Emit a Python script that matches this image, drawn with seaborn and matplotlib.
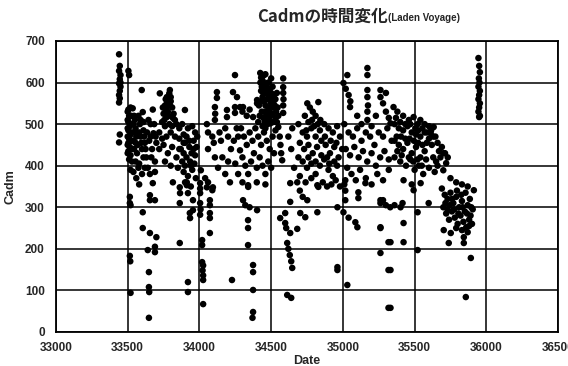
import matplotlib
matplotlib.use("Agg")
import matplotlib.pyplot as plt
import seaborn as sns
import pandas as pd

# ---- data ----
date_a = [33440, 33445, 33440, 33450, 33445, 33440, 33450, 33445, 33440, 33445, 33450, 33440, 33445, 33440, 33505, 33510]
cadm_a = [668, 640, 628, 618, 608, 598, 590, 580, 570, 562, 600, 552, 475, 456, 628, 618]

date_b = [33505, 33510, 33505, 33515, 33505, 33520, 33510, 33505, 33515, 33505, 33520, 33510, 33525, 33530, 33535, 33540,
          33545, 33550, 33555, 33560, 33565, 33570, 33580, 33585, 33590, 33600, 33605, 33598, 33610, 33620, 33630, 33640,
          33650, 33660, 33670, 33675, 33680, 33690, 33700, 33520, 33540, 33560, 33580, 33600, 33620, 33655, 33690,
          33515, 33515, 33520, 33515, 33518, 33520, 33605, 33605, 33655, 33700, 33640, 33690, 33690, 33648, 33648,
          33650, 33648, 33675, 33655, 33655, 33690]
cadm_b = [535, 520, 505, 495, 485, 475, 465, 455, 445, 435, 425, 415, 500, 480, 538, 460,
          440, 510, 490, 470, 430, 450, 405, 500, 470, 440, 529, 582, 485, 455, 420, 395,
          460, 500, 440, 535, 478, 410, 455, 390, 385, 370, 355, 380, 395, 380, 385,
          325, 310, 305, 183, 170, 94, 288, 250, 238, 228, 197, 205, 192, 144, 108,
          96, 34, 358, 329, 317, 317]

date_c = [33724, 33794, 33790, 33773, 33775, 33770, 33780, 33773, 33760, 33750, 33800, 33810, 33820, 33829, 33899, 33740,
          33760, 33790, 33810, 33840, 33860, 33880, 33720, 33740, 33770, 33800, 33830, 33860, 33890, 33920, 33950, 33970,
          33720, 33750, 33780, 33810, 33840, 33870, 33900, 33930, 33960, 33985, 33880, 33910, 33940, 33970, 33890, 33920,
          33950, 33975, 33900, 33940, 33760, 33800, 33850,
          33815, 33863, 33865, 33912, 33912, 33920, 33863, 33955, 33933, 33935, 33955, 33863, 33920, 33920]
cadm_c = [574, 582, 574, 565, 550, 540, 530, 517, 545, 525, 555, 540, 525, 510, 534, 505,
          495, 500, 495, 500, 490, 500, 480, 465, 470, 480, 470, 465, 475, 490, 495, 480,
          440, 450, 430, 445, 420, 440, 455, 445, 460, 470, 410, 420, 400, 425, 385, 375,
          390, 370, 360, 350, 410, 400, 395,
          360, 348, 334, 360, 353, 334, 310, 317, 286, 274, 293, 214, 120, 96]

date_d = [34005, 34005, 34005, 34052, 34094, 34073, 34073, 34005, 34008, 34005, 34073, 34073, 34073, 34019, 34019, 34019,
          34026, 34022, 34026, 34026, 34026, 34213, 34227,
          34122, 34122, 34234, 34262, 34108, 34110, 34108, 34192, 34192, 34248, 34248, 34304, 34248,
          34052, 34060, 34090, 34100, 34060, 34108, 34140, 34150, 34180, 34200, 34220, 34240, 34260, 34283, 34270, 34160,
          34200, 34250, 34130, 34180, 34270, 34010, 34040, 34090, 34060]
cadm_d = [358, 345, 334, 348, 348, 317, 305, 310, 295, 282, 286, 274, 238, 221, 209, 168,
          160, 148, 136, 125, 67, 360, 125,
          577, 563, 577, 565, 541, 525, 510, 534, 517, 541, 527, 541, 618,
          500, 480, 470, 455, 440, 420, 480, 460, 490, 470, 440, 460, 490, 437, 470, 420,
          410, 405, 395, 380, 380, 389, 370, 341, 360]

date_e = [34424, 34430, 34440, 34450, 34460, 34470, 34480, 34490, 34500, 34510, 34520, 34530, 34540, 34430, 34440, 34450,
          34460, 34470, 34480, 34490, 34500, 34510, 34520, 34530, 34540, 34435, 34445, 34455, 34465, 34475, 34485, 34495,
          34415, 34402, 34402, 34283, 34300, 34330, 34350, 34374, 34584, 34584, 34584, 34586, 34584, 34584,
          34290, 34310, 34330, 34350, 34370, 34390, 34410, 34430, 34450, 34470, 34490, 34510, 34530, 34550, 34560, 34565,
          34570, 34577, 34300, 34320, 34340, 34360, 34380, 34400, 34420, 34440, 34460, 34480, 34500, 34520, 34300, 34340,
          34400, 34460,
          34339, 34304, 34320, 34350, 34402, 34339, 34339, 34339, 34374, 34374, 34374, 34374, 34370]
cadm_e = [623, 612, 605, 618, 598, 590, 600, 585, 575, 590, 570, 560, 575, 580, 565, 555,
          545, 560, 540, 530, 550, 525, 540, 515, 505, 530, 515, 505, 520, 500, 510, 502,
          545, 558, 550, 541, 530, 520, 535, 517, 610, 589, 575, 560, 545, 527,
          490, 470, 450, 480, 460, 490, 470, 450, 480, 460, 440, 470, 485, 493, 470, 450,
          430, 413, 420, 400, 380, 410, 430, 395, 420, 400, 380, 410, 395, 430, 360, 349,
          360, 355,
          353, 317, 305, 300, 293, 269, 250, 209, 161, 144, 101, 48, 34]

date_f = [34633, 34682, 34700, 34720, 34752, 34822, 34633, 34563, 34598, 34703, 34738, 34822, 34962, 34598, 34605, 34633,
          34682, 34612, 34620, 34630, 34640, 34647, 34962, 34962, 34612, 34640,
          34752, 34770, 34790, 34810, 34829, 34843, 34760, 34800, 34647, 34690, 34720, 34750, 34780, 34810, 34840, 34870,
          34900, 34930, 34960, 34980, 34700, 34730, 34760, 34790, 34820, 34850, 34880, 34910, 34940, 34970, 34690, 34720,
          34750, 34780, 34810, 34840, 34870, 34900, 34930, 34960, 34700, 34740, 34780, 34829, 34860, 34890, 34920, 34950,
          34980, 34660, 34640, 34620]
cadm_f = [358, 360, 340, 325, 317, 353, 313, 274, 286, 286, 276, 288, 300, 262, 250, 238,
          248, 214, 200, 185, 170, 154, 156, 149, 89, 82,
          550, 540, 530, 520, 553, 510, 505, 495, 490, 500, 480, 470, 490, 470, 485, 500,
          490, 480, 495, 470, 455, 440, 450, 430, 445, 460, 450, 430, 445, 420, 420, 410,
          395, 405, 380, 400, 415, 390, 375, 400, 375, 360, 370, 349, 360, 350, 355, 365,
          350, 395, 440, 470]

date_g = [35031, 35171, 35171, 35004, 35020, 35040, 35052, 35050, 35171, 35171, 35175, 35171, 35171, 35262, 35280, 35300,
          35320, 35332, 35100, 35130, 35200, 35230, 35010, 35040, 35070, 35100, 35130, 35160, 35190, 35220, 35250, 35280,
          35310, 35340, 35020, 35050, 35080, 35110, 35140, 35170, 35200, 35230, 35260, 35290, 35320, 35030, 35060, 35090,
          35120, 35160, 35200, 35240, 35280, 35320, 35010, 35262, 35300,
          35017, 35017, 35017, 35108, 35108, 35157, 35004, 35040, 35087, 35101, 35262, 35262, 35318, 35262, 35318, 35031,
          35318, 35262, 35300, 35330]
cadm_g = [618, 635, 618, 599, 585, 570, 555, 541, 582, 565, 545, 530, 510, 565, 550, 530,
          515, 502, 520, 500, 495, 520, 500, 480, 470, 490, 460, 480, 470, 450, 480, 470,
          490, 460, 440, 425, 445, 420, 435, 410, 430, 400, 420, 435, 415, 395, 380, 365,
          390, 370, 355, 380, 365, 390, 355, 582, 575,
          365, 340, 317, 336, 322, 358, 288, 275, 264, 252, 310, 250, 216, 190, 149, 113,
          58, 317, 305, 300]

date_h = [35353, 35380, 35420, 35460, 35493, 35521, 35540, 35570, 35600, 35633, 35360, 35390, 35420, 35450, 35480, 35510,
          35540, 35570, 35600, 35630, 35660, 35690, 35712, 35731, 35360, 35390, 35420, 35450, 35480, 35510, 35540, 35570,
          35612, 35650, 35680, 35720, 35360, 35400, 35440, 35470, 35500, 35530, 35560, 35600, 35640, 35700, 35750, 35790,
          35830, 35870, 35913, 35423, 35480, 35542, 35493,
          35690, 35710, 35730, 35750, 35770, 35790, 35810, 35830, 35850, 35870, 35890, 35905, 35700, 35720, 35740, 35760,
          35780, 35800, 35820, 35840, 35860, 35880, 35900, 35703, 35752, 35738, 35843, 35843, 35892, 35857,
          35332, 35332, 35262, 35423, 35332, 35423, 35521, 35521, 35280, 35402, 35416, 35598, 35360]
cadm_h = [541, 530, 520, 510, 517, 500, 510, 500, 495, 493, 500, 490, 485, 495, 480, 475,
          470, 480, 465, 470, 455, 445, 430, 420, 460, 450, 440, 455, 430, 445, 420, 435,
          478, 410, 420, 406, 420, 410, 400, 415, 390, 400, 380, 395, 385, 389, 370, 360,
          355, 350, 341, 365, 355, 358, 341,
          345, 330, 320, 335, 310, 325, 300, 315, 290, 305, 280, 295, 300, 285, 270, 290,
          275, 260, 280, 265, 252, 270, 260, 245, 238, 214, 228, 214, 178, 84,
          149, 58, 252, 262, 216, 216, 288, 197, 317, 300, 310, 310, 305]

date_i = [35945, 35950, 35955, 35948, 35952, 35945, 35955, 35950, 35945, 35955, 35950, 35945, 35955, 35950]
cadm_i = [659, 640, 625, 610, 600, 590, 580, 570, 560, 550, 540, 530, 520, 517]

# extra points inside the densest clouds
date_j = [33500, 33500, 33500, 33500, 33500, 33500, 33525, 33525, 33530, 33530, 33545, 33550, 33555, 33540, 33520, 33575,
          33580, 33590, 33595, 33610, 33615, 33625, 33635, 33645, 33660, 33665, 33685, 33695, 33555, 33575, 33610,
          33765, 33785, 33795, 33785, 33765, 33800, 33755, 33815, 33745,
          33860, 33890, 33910, 33930, 33945, 33960, 33900, 33935, 33965, 33980, 33890]
cadm_j = [530, 510, 490, 470, 450, 430, 520, 460, 440, 410, 520, 480, 455, 500, 540, 520,
          480, 510, 455, 505, 470, 440, 480, 510, 470, 420, 500, 470, 410, 395, 420,
          560, 555, 545, 520, 530, 565, 510, 515, 540,
          440, 455, 470, 460, 430, 440, 400, 410, 405, 445, 430]

date_k = [34425, 34435, 34445, 34455, 34465, 34475, 34485, 34495, 34505, 34515, 34525, 34535, 34545, 34435, 34455, 34475,
          34495, 34515, 34420, 34410, 34440, 34460, 34550, 34500, 34460,
          34735, 34785, 34745, 34825, 34875, 34915, 34955, 34890, 34850, 34810, 34760, 34995, 34940, 34905]
cadm_k = [600, 590, 575, 585, 575, 580, 565, 555, 560, 550, 545, 530, 540, 555, 530, 520,
          520, 505, 520, 505, 495, 490, 520, 610, 620,
          520, 510, 485, 500, 470, 460, 455, 420, 425, 410, 420, 440, 410, 405]

date_m = [35370, 35400, 35435, 35470, 35505, 35525, 35555, 35585, 35615, 35645, 35375, 35405, 35435, 35465, 35495, 35525,
          35555, 35585, 35620, 35670, 35700, 35380, 35410, 35460, 35490, 35520, 35550, 35580, 35630, 35660,
          35715, 35745, 35775, 35805, 35835, 35865, 35895, 35760, 35795, 35825, 35855, 35885, 35730, 35790, 35830, 35870,
          35880]
cadm_m = [515, 505, 500, 500, 490, 485, 490, 480, 485, 470, 470, 470, 465, 465, 460, 455,
          450, 455, 450, 435, 430, 435, 425, 420, 410, 415, 400, 415, 420, 400,
          310, 305, 295, 285, 300, 285, 300, 320, 340, 330, 335, 320, 295, 250, 245, 240,
          255]

x_ticks = [33000, 33500, 34000, 34500, 35000, 35500, 36000, 36500]
y_ticks = [0, 100, 200, 300, 400, 500, 600, 700]

df = pd.DataFrame({
    "Date": date_a + date_b + date_c + date_d + date_e + date_f + date_g + date_h + date_i
            + date_j + date_k + date_m,
    "Cadm": cadm_a + cadm_b + cadm_c + cadm_d + cadm_e + cadm_f + cadm_g + cadm_h + cadm_i
            + cadm_j + cadm_k + cadm_m,
})

sns.set_theme(style="white")
plt.rcParams["font.family"] = ["Liberation Sans Narrow", "Liberation Sans", "DejaVu Sans"]

fig = plt.figure(figsize=(5.68, 3.66), dpi=100)
ax = fig.add_axes([0.0985, 0.093, 0.884, 0.795])

sns.scatterplot(data=df, x="Date", y="Cadm", color="black", s=22, edgecolor="none", ax=ax, zorder=3)

ax.set_xlim(33000, 36500)
ax.set_ylim(0, 700)
ax.set_xticks(x_ticks)
ax.set_yticks(y_ticks)
ax.set_xticklabels([str(v) for v in x_ticks], fontsize=8.5, fontweight="bold")
ax.set_yticklabels([str(v) for v in y_ticks], fontsize=8.5, fontweight="bold")
ax.tick_params(axis="x", length=0, pad=7)
ax.tick_params(axis="y", length=0, pad=8)
ax.grid(True, color="black", linewidth=1.1)
ax.set_axisbelow(True)
for sp in ax.spines.values():
    sp.set_color("black")
    sp.set_linewidth(1.3)

ax.set_xlabel("Date", fontsize=9, fontweight="bold", labelpad=1)
ax.set_ylabel("Cadm", fontsize=9, fontweight="bold", labelpad=6)

fig.text(0.683, 0.953, "Cadmの時間変化", ha="right", va="center", fontsize=12, fontweight="bold",
         family=["Noto Sans CJK JP", "DejaVu Sans"])
fig.text(0.683, 0.950, "(Laden Voyage)", ha="left", va="center", fontsize=7, fontweight="bold",
         family=["Liberation Sans Narrow", "Liberation Sans", "DejaVu Sans"])

fig.savefig("out.png", dpi=100)
